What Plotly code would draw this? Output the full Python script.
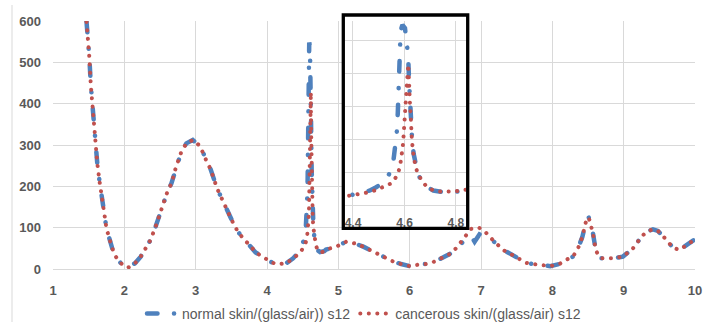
import plotly.graph_objects as go

# ---- data ----
normal_x = [1.47, 1.49, 1.51, 1.53, 1.556, 1.574, 1.60, 1.62, 1.65, 1.68, 1.72, 1.75, 1.79, 1.83, 1.88, 1.95,
            2.05, 2.15, 2.23, 2.30, 2.36, 2.43, 2.48, 2.53, 2.60, 2.66, 2.72, 2.80, 2.87, 2.96, 3.06, 3.15,
            3.21, 3.30, 3.38, 3.43, 3.49, 3.55, 3.62, 3.69, 3.77, 3.84, 3.94, 4.04, 4.14, 4.27,
            4.362, 4.414, 4.466, 4.490, 4.511, 4.530, 4.544, 4.557, 4.565, 4.570, 4.574, 4.577, 4.580,
            4.582, 4.585, 4.592, 4.602, 4.608, 4.614, 4.618, 4.622, 4.626, 4.630, 4.636, 4.643, 4.652,
            4.668, 4.688, 4.712, 4.744, 4.777, 4.803, 4.828,
            4.97, 5.11, 5.23, 5.35, 5.49, 5.63, 5.77, 5.88, 6.00, 6.14, 6.23, 6.35, 6.44, 6.56, 6.65,
            6.72, 6.79, 6.86, 6.91, 6.98, 7.09, 7.17, 7.31, 7.42, 7.52, 7.63, 7.77, 7.97, 8.10, 8.19,
            8.29, 8.36, 8.42, 8.47, 8.51, 8.57, 8.61, 8.68, 8.85, 8.99, 9.13, 9.25, 9.32, 9.41, 9.48,
            9.55, 9.69, 9.78, 9.92, 10.0]
normal_y = [598, 560, 511, 445, 385, 342, 300, 257, 215, 172, 133, 98, 70, 50, 30, 14,
            3, 14, 30, 50, 68, 98, 124, 145, 185, 207, 244, 284, 304, 312, 298, 262,
            241, 195, 165, 144, 125, 102, 84, 69, 56, 40, 30, 18, 11, 14,
            25, 35, 45, 55, 65, 80, 100, 135, 175, 220, 280, 343, 405,
            467, 530, 548, 538, 495, 460, 375, 300, 240, 195, 155, 120, 95,
            72, 55, 45, 41, 41, 43, 47,
            54, 66, 62, 54, 42, 30, 18, 12, 7, 11, 12, 18, 26, 36, 50,
            62, 72, 80, 66, 84, 77, 68, 46, 36, 26, 15, 11, 7, 12, 22,
            30, 50, 77, 114, 125, 86, 44, 26, 26, 30, 50, 78, 90, 96, 92,
            80, 52, 46, 62, 72]

cancerous_x = [1.47, 1.49, 1.51, 1.53, 1.556, 1.574, 1.60, 1.62, 1.65, 1.68, 1.72, 1.75, 1.79, 1.83, 1.88, 1.95,
               2.05, 2.15, 2.23, 2.30, 2.36, 2.43, 2.48, 2.53, 2.60, 2.66, 2.72, 2.80, 2.87, 2.96, 3.06, 3.15,
               3.21, 3.30, 3.38, 3.43, 3.49, 3.55, 3.62, 3.69, 3.77, 3.84, 3.94, 4.04, 4.14, 4.27,
               4.362, 4.401, 4.434, 4.466, 4.492, 4.518, 4.544, 4.563, 4.576, 4.583, 4.589, 4.593, 4.596,
               4.598, 4.600, 4.602, 4.606, 4.608, 4.612, 4.615, 4.617, 4.621, 4.624, 4.626, 4.629, 4.634,
               4.641, 4.650, 4.667, 4.686, 4.712, 4.744, 4.777, 4.803, 4.828,
               4.97, 5.11, 5.23, 5.35, 5.49, 5.63, 5.77, 5.88, 6.00, 6.14, 6.23, 6.35, 6.44, 6.56, 6.65,
               6.72, 6.79, 6.86, 6.97, 7.05, 7.12, 7.17, 7.31, 7.42, 7.52, 7.63, 7.77, 7.97, 8.10, 8.19,
               8.29, 8.36, 8.42, 8.47, 8.51, 8.57, 8.61, 8.68, 8.85, 8.99, 9.13, 9.25, 9.32, 9.41, 9.48,
               9.55, 9.69, 9.78, 9.92, 10.0]
cancerous_y = [598, 560, 511, 445, 385, 342, 300, 257, 215, 172, 133, 98, 70, 50, 30, 14,
               3, 14, 30, 50, 68, 98, 124, 145, 185, 207, 244, 284, 304, 312, 298, 262,
               241, 195, 165, 144, 125, 102, 84, 69, 56, 40, 30, 18, 11, 14,
               25, 30, 35, 40, 47, 55, 65, 80, 100, 120, 145, 175, 205,
               235, 260, 295, 325, 365, 400, 428, 365, 315, 275, 235, 195, 160,
               125, 100, 75, 57, 45, 41, 41, 43, 47,
               54, 66, 62, 54, 42, 30, 18, 12, 7, 11, 12, 18, 26, 36, 50,
               66, 80, 97, 100, 92, 78, 70, 46, 36, 26, 15, 11, 7, 12, 22,
               30, 50, 77, 114, 125, 86, 44, 26, 26, 30, 50, 78, 90, 96, 92,
               80, 52, 46, 62, 72]

series_names = ["normal skin/(glass/air)) s12", "cancerous skin/(glass/air) s12"]
main_x_ticks = [1, 2, 3, 4, 5, 6, 7, 8, 9, 10]
main_y_ticks = [0, 100, 200, 300, 400, 500, 600]
inset_x_ticks = [4.4, 4.6, 4.8]
inset_x_labels = ["4.4", "4.6", "4.8"]

BLUE = "#4f81bd"
RED = "#c0504d"
GRID = "#d9d9d9"
TXT = "#595959"
FONT = "Liberation Sans"

blue_line = dict(color=BLUE, width=4.5, dash="10.5px,16.5px,0.1px,16.5px")
red_line = dict(color=RED, width=4, dash="0.1px,8.4px")

fig = go.Figure()
for xa, ya, show in (("x", "y", True), ("x2", "y2", False)):
    fig.add_trace(go.Scatter(x=normal_x, y=normal_y, mode="lines", name=series_names[0],
                             line=blue_line, xaxis=xa, yaxis=ya, showlegend=show,
                             legendrank=1))
    fig.add_trace(go.Scatter(x=cancerous_x, y=cancerous_y, mode="lines", name=series_names[1],
                             line=red_line, xaxis=xa, yaxis=ya, showlegend=show,
                             legendrank=2))

W, H = 720, 322
L, R, T, B = 53, 25, 21, 53
pw, ph = W - L - R, H - T - B


def px2x(p):
    return (p - L) / pw


def py2y(p):
    return (H - B - p) / ph


fig.update_layout(
    template="none",
    width=W, height=H, autosize=False,
    margin=dict(l=L, r=R, t=T, b=B, pad=0, autoexpand=False),
    paper_bgcolor="white", plot_bgcolor="white",
    font=dict(family=FONT, color=TXT),
    xaxis=dict(range=[1, 10], tickvals=main_x_ticks, showgrid=True, gridcolor=GRID, gridwidth=1,
               zeroline=False, showline=True, linecolor=GRID, linewidth=1, ticks="",
               tickfont=dict(family=FONT, size=13, color=TXT, weight="bold"),
               ticklabelstandoff=9, fixedrange=True, automargin=False),
    yaxis=dict(range=[0, 600], tickvals=main_y_ticks, showgrid=True, gridcolor=GRID, gridwidth=1,
               zeroline=False, showline=False, ticks="",
               tickfont=dict(family=FONT, size=13, color=TXT, weight="bold"),
               ticklabelstandoff=11, fixedrange=True, automargin=False),
    xaxis2=dict(domain=[px2x(345), px2x(466)], anchor="y2", range=[4.369, 4.839],
                tickvals=inset_x_ticks, ticktext=inset_x_labels, showgrid=True, gridcolor=GRID,
                zeroline=False, showline=False, ticks="", ticklabelposition="inside",
                ticklabeloverflow="allow", ticklabelstandoff=-4,
                tickfont=dict(family=FONT, size=12, color=TXT, weight="bold"), fixedrange=True,
                automargin=False),
    yaxis2=dict(domain=[py2y(228), 1], anchor="x2", range=[-69, 560], tick0=0, dtick=100,
                showgrid=True, gridcolor=GRID, zeroline=False, showline=False,
                showticklabels=False, ticks="", fixedrange=True, automargin=False),
    legend=dict(orientation="h", x=px2x(364), xanchor="center", y=py2y(314), yanchor="middle",
                font=dict(family=FONT, size=14, color=TXT), bgcolor="rgba(0,0,0,0)",
                itemwidth=30, traceorder="normal"),
    shapes=[
        dict(type="rect", xref="paper", yref="paper", x0=px2x(343.3), x1=px2x(467.7),
             y0=py2y(228.3), y1=py2y(15), line=dict(color="black", width=3.3), layer="above"),
        dict(type="line", xref="paper", yref="paper", x0=px2x(12), x1=px2x(12),
             y0=py2y(322), y1=py2y(5), line=dict(color=GRID, width=1), layer="below"),
    ],
)

post = """
document.body.style.margin = '0';
document.body.style.padding = '0';
var gd = document.getElementById('{plot_id}');
gd.querySelectorAll('path.js-line').forEach(function(p){ p.style.strokeLinecap = 'round'; });
"""

fig.write_html("out.html", post_script=post, config={"displayModeBar": False})
